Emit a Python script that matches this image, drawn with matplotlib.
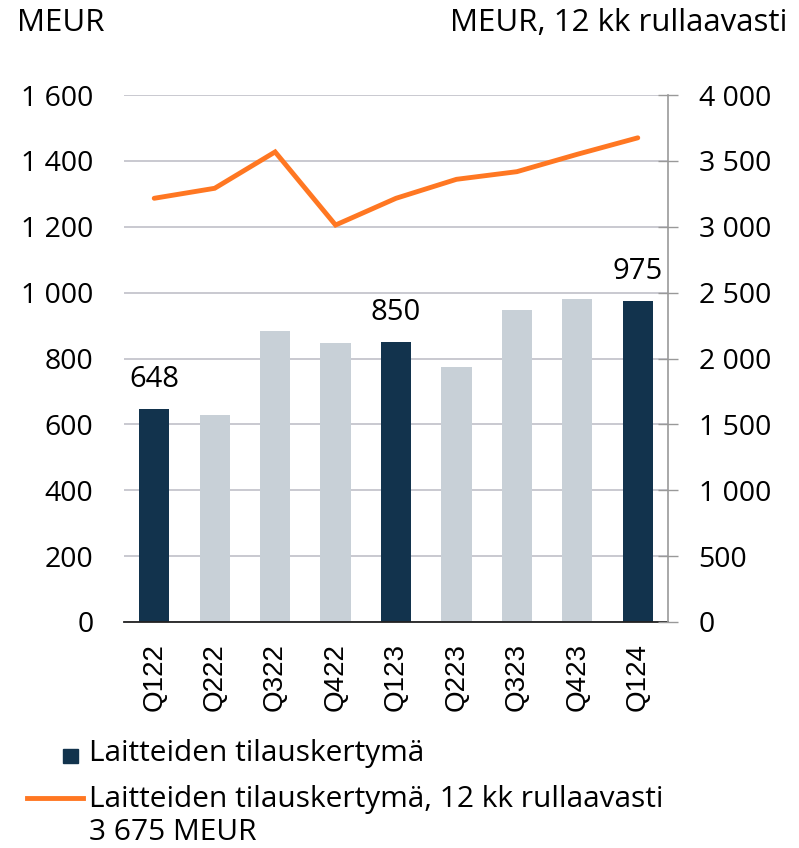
import matplotlib
matplotlib.use('Agg')
import matplotlib.pyplot as plt
from matplotlib.ticker import FuncFormatter
from matplotlib.lines import Line2D
from matplotlib.patches import Rectangle

plt.rcParams['font.family'] = ['Open Sans', 'DejaVu Sans']

# Data
quarters = ['Q122', 'Q222', 'Q322', 'Q422', 'Q123', 'Q223', 'Q323', 'Q423', 'Q124']
orders = [648, 627, 884, 848, 850, 773, 947, 980, 975]
rolling_12m = [3216, 3292, 3568, 3013, 3216, 3360, 3418, 3550, 3675]
highlight = [True, False, False, False, True, False, False, False, True]

DARK = '#12334d'
LIGHT = '#c8d0d7'
ORANGE = '#ff7722'
GRID = '#c0c0c8'
TITLE_FS = 22.5
TICK_FS = 20.5
LEG_FS = 21.5


def sep(v, pos=None):
    return f"{int(v):,}".replace(',', ' ')


fig = plt.figure(figsize=(7.99, 8.48), dpi=100)
ax = fig.add_axes([124 / 799, 1 - 622 / 848, 544 / 799, 527 / 848])

x = list(range(len(quarters)))
colors = [DARK if h else LIGHT for h in highlight]
ax.bar(x, orders, width=0.5, color=colors, zorder=2)

for i, (v, h) in enumerate(zip(orders, highlight)):
    if h:
        ax.text(i, v + 45, str(v), ha='center', va='bottom', fontsize=21, color='black')

ax.set_xlim(-0.5, 8.5)
ax.set_ylim(0, 1600)
ax.set_yticks(range(0, 1601, 200))
ax.yaxis.set_major_formatter(FuncFormatter(sep))
ax.set_xticks(x)
ax.set_xticklabels(quarters, rotation=90, fontsize=20, family=['Liberation Sans', 'DejaVu Sans'])
ax.tick_params(axis='y', length=0, labelsize=TICK_FS, pad=22)
ax.tick_params(axis='x', length=0, pad=15)
ax.grid(axis='y', color=GRID, linewidth=1.2, zorder=0)
ax.set_axisbelow(True)
for s in ['left', 'top', 'right']:
    ax.spines[s].set_visible(False)
ax.spines['bottom'].set_color('#222222')
ax.spines['bottom'].set_linewidth(1.3)
ax.spines['bottom'].set_zorder(3)

ax2 = ax.twinx()
ax2.plot(x, rolling_12m, color=ORANGE, linewidth=3.5, solid_capstyle='round',
         solid_joinstyle='miter', zorder=3)
ax2.set_ylim(0, 4000)
ax2.set_yticks(range(0, 4001, 500))
ax2.yaxis.set_major_formatter(FuncFormatter(sep))
ax2.tick_params(axis='y', direction='inout', length=14, width=1, color='#999999',
                labelsize=TICK_FS, pad=15)
for s in ['left', 'top', 'bottom']:
    ax2.spines[s].set_visible(False)
ax2.spines['right'].set_color('#999999')
ax2.spines['right'].set_linewidth(1.2)

# Axis titles
fig.text(17 / 799, 1 - 23 / 848, 'MEUR', fontsize=TITLE_FS, ha='left', va='center')
fig.text(787 / 799, 1 - 23 / 848, 'MEUR, 12 kk rullaavasti', fontsize=TITLE_FS,
         ha='right', va='center')

# Legend
fig.add_artist(Rectangle((63 / 799, 1 - 763 / 848), 15 / 799, 14 / 848,
                         transform=fig.transFigure, color=DARK))
fig.text(89 / 799, 1 - 754 / 848, 'Laitteiden tilauskertymä', fontsize=LEG_FS,
         ha='left', va='center')
fig.add_artist(Line2D([27 / 799, 83 / 799], [1 - 798 / 848, 1 - 798 / 848],
                      transform=fig.transFigure, color=ORANGE, linewidth=3.5))
fig.text(89 / 799, 1 - 799 / 848, 'Laitteiden tilauskertymä, 12 kk rullaavasti',
         fontsize=LEG_FS, ha='left', va='center')
fig.text(89 / 799, 1 - 832 / 848, '3 675 MEUR', fontsize=LEG_FS, ha='left', va='center')

fig.savefig('out.png', dpi=100)
